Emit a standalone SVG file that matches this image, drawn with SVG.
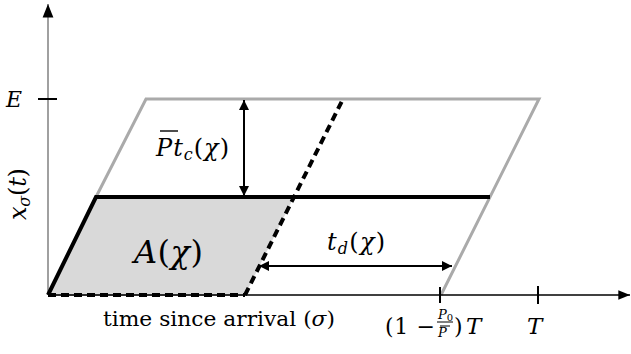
<svg xmlns="http://www.w3.org/2000/svg" width="631" height="354" viewBox="0 0 631 354">
<style>
.m{font-family:"DejaVu Serif",serif;font-style:italic;fill:#000}
.r{font-family:"DejaVu Serif",serif;font-style:normal;fill:#000}
.gray{fill:none;stroke:#aaaaaa;stroke-width:3}
.thick{fill:none;stroke:#000;stroke-width:4}
.dash{fill:none;stroke:#000;stroke-width:4;stroke-dasharray:8 5}
.arr{fill:none;stroke:#000;stroke-width:2}
</style>
<defs>
<marker id="ah" viewBox="0 0 10 10" refX="10" refY="5" markerWidth="5" markerHeight="5" orient="auto-start-reverse" markerUnits="strokeWidth">
<path d="M0,0 L10,5 L0,10 z" fill="#000"/>
</marker>
<marker id="ax" viewBox="0 0 10 10" refX="10" refY="5" markerWidth="9" markerHeight="9" orient="auto" markerUnits="strokeWidth">
<path d="M0,1 L10,5 L0,9 z" fill="#000"/>
</marker>
</defs>
<g id="region-A">
<polygon points="48,295 96,197 294,197 245,295" fill="#d9d9d9"/>
</g>
<g id="outer-parallelogram">
<polyline class="gray" points="96,197 146,99 539,99 441,295"/>
<line x1="48" y1="295" x2="245" y2="295" stroke="#aaaaaa" stroke-width="2"/>
</g>
<g id="axes">
<line x1="48" y1="295" x2="48" y2="4" stroke="#808080" stroke-width="1.5" marker-end="url(#ax)"/>
<line x1="48" y1="295" x2="630" y2="295" stroke="#000" stroke-width="1.3" marker-end="url(#ax)"/>
<line x1="38" y1="99" x2="57" y2="99" stroke="#000" stroke-width="2"/>
<line x1="440" y1="287" x2="440" y2="303" stroke="#000" stroke-width="2"/>
<line x1="538" y1="286" x2="538" y2="304" stroke="#000" stroke-width="2"/>
</g>
<g id="connectors">
<polyline class="thick" points="48,295 96,197 490,197"/>
<line class="dash" x1="48" y1="295" x2="245" y2="295"/>
<line class="dash" x1="245" y1="295" x2="343" y2="99"/>
<line class="arr" x1="244" y1="100" x2="244" y2="196" marker-start="url(#ah)" marker-end="url(#ah)"/>
<line class="arr" x1="259" y1="266" x2="452" y2="266" marker-start="url(#ah)" marker-end="url(#ah)"/>
</g>
<g id="labels">
<text class="m" x="6" y="107" font-size="22">E</text>
<text class="m" transform="translate(26,194) rotate(-90)" text-anchor="middle" font-size="24" textLength="52" lengthAdjust="spacing">x<tspan font-size="16" dy="4">σ</tspan><tspan class="r" dy="-4">(</tspan>t<tspan class="r">)</tspan></text>
<g id="label-Ptc">
<line x1="160" y1="131" x2="178" y2="131" stroke="#000" stroke-width="1.4"/>
<text class="m" x="156" y="156" font-size="24" textLength="73" lengthAdjust="spacing">P<tspan>t</tspan><tspan font-size="16" dy="4">c</tspan><tspan class="r" dy="-4">(</tspan>χ<tspan class="r">)</tspan></text>
</g>
<text class="m" x="134" y="263" font-size="32" textLength="69" lengthAdjust="spacing">A<tspan class="r">(</tspan>χ<tspan class="r">)</tspan></text>
<text class="m" x="327" y="250" font-size="24" textLength="58" lengthAdjust="spacing">t<tspan font-size="16" dy="4">d</tspan><tspan class="r" dy="-4">(</tspan>χ<tspan class="r">)</tspan></text>
<text class="r" x="103" y="326" font-size="21" textLength="232" lengthAdjust="spacingAndGlyphs">time since arrival (<tspan class="m">σ</tspan>)</text>
<g id="label-frac">
<text class="r" x="385" y="334" font-size="22" textLength="50" lengthAdjust="spacing">(1 −</text>
<text class="m" x="438" y="319" font-size="13">P<tspan class="r" font-size="10" dy="2">0</tspan></text>
<line x1="437" y1="322" x2="453" y2="322" stroke="#000" stroke-width="1"/>
<line x1="440" y1="326" x2="450" y2="326" stroke="#000" stroke-width="1"/>
<text class="m" x="438" y="337" font-size="13">P</text>
<text class="r" x="454" y="334" font-size="22">)</text>
<text class="m" x="466" y="334" font-size="23">T</text>
</g>
<text class="m" x="527" y="334" font-size="23">T</text>
</g>
</svg>
